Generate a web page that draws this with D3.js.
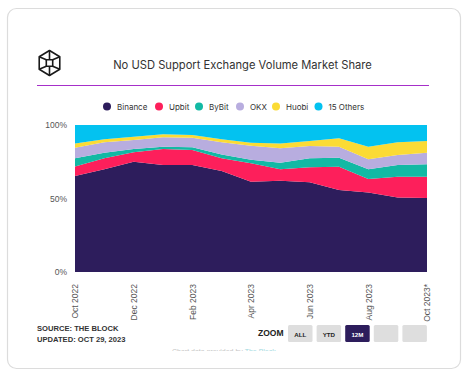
<!DOCTYPE html>
<html>
<head>
<meta charset="utf-8">
<script src="https://cdn.jsdelivr.net/npm/d3@7"></script>
<style>
  html, body { margin: 0; padding: 0; background: #ffffff; }
  svg { display: block; }
</style>
</head>
<body>
<svg id="chart" width="471" height="376"></svg>
<script>
const months = ["Oct 2022","Nov 2022","Dec 2022","Jan 2023","Feb 2023","Mar 2023","Apr 2023","May 2023","Jun 2023","Jul 2023","Aug 2023","Sep 2023","Oct 2023*"];
const seriesNames = ["Binance","Upbit","ByBit","OKX","Huobi","15 Others"];
const binance = [65.3, 69.9, 75.0, 72.8, 72.8, 68.7, 61.4, 62.1, 61.0, 55.8, 54.0, 50.6, 50.3];
const upbit   = [ 6.4,  7.4,  6.4, 10.9, 10.2,  8.6, 12.5,  7.8, 10.2, 15.8,  9.3, 14.2, 14.5];
const bybit   = [ 5.6,  3.9,  2.3,  1.5,  1.8,  2.7,  2.5,  4.5,  6.1,  6.2,  6.6,  8.0,  8.5];
const okx     = [ 7.3,  7.0,  6.1,  6.4,  6.6,  8.2,  9.5,  9.7,  8.4,  7.4,  6.8,  6.8,  7.9];
const huobi   = [ 2.9,  2.1,  2.2,  2.1,  1.8,  2.1,  2.1,  3.4,  3.4,  5.8,  8.5,  8.6,  7.9];
const others  = [12.5,  9.7,  8.0,  6.3,  6.8,  9.7, 12.0, 12.5, 10.9,  9.0, 14.8, 11.8, 10.9];
const yTicks = [0, 50, 100];
const xTickLabels = ["Oct 2022","Dec 2022","Feb 2023","Apr 2023","Jun 2023","Aug 2023","Oct 2023*"];
const colors = ["#2d1d5c","#fd1f5b","#12b9a4","#b8addf","#fbdb35","#03c2f0"];
const zoomButtons = ["ALL","YTD","12M","",""];

const svg = d3.select("#chart");

// card
svg.append("rect").attr("x", 7.5).attr("y", 8.5).attr("width", 453).attr("height", 360)
  .attr("rx", 9).attr("fill", "#fff").attr("stroke", "#dcdcdc").attr("stroke-width", 1.2);

// logo
const lg = svg.append("g").attr("fill", "none").attr("stroke", "#1a1a1a").attr("stroke-width", 1.6).attr("stroke-linejoin", "round");
const cx = 49.5, cy = 63, R = 12.5;
const hex = d3.range(6).map(i => { const a = -Math.PI/2 + i*Math.PI/3; return [cx + R*Math.cos(a)*0.95, cy + R*Math.sin(a)]; });
lg.append("polygon").attr("points", hex.map(p => p.join(",")).join(" "));
const s = 3.2;
lg.append("rect").attr("x", cx - s).attr("y", cy - s).attr("width", 2*s).attr("height", 2*s);
[[hex[0],[cx, cy - s]],[hex[1],[cx + s, cy - s]],[hex[2],[cx + s, cy + s]],[hex[3],[cx, cy + s]],[hex[4],[cx - s, cy + s]],[hex[5],[cx - s, cy - s]]]
  .forEach(([a,b]) => lg.append("line").attr("x1", a[0]).attr("y1", a[1]).attr("x2", b[0]).attr("y2", b[1]));

// title
svg.append("text").attr("x", 242.5).attr("y", 69).attr("text-anchor", "middle")
  .attr("font-family", "Inter, 'Noto Sans', sans-serif").attr("font-size", 11.2).attr("fill", "#333")
  .text("No USD Support Exchange Volume Market Share");
svg.append("line").attr("x1", 37).attr("x2", 429).attr("y1", 85.5).attr("y2", 85.5)
  .attr("stroke", "#a62fc9").attr("stroke-width", 1.2);

// legend
const legendItems = [
  {x: 107, name: seriesNames[0]},
  {x: 159, name: seriesNames[1]},
  {x: 199, name: seriesNames[2]},
  {x: 240, name: seriesNames[3]},
  {x: 276, name: seriesNames[4]},
  {x: 318.5, name: seriesNames[5]}
];
const leg = svg.append("g");
legendItems.forEach((d, i) => {
  leg.append("circle").attr("cx", d.x).attr("cy", 106.5).attr("r", 4).attr("fill", colors[i]);
  leg.append("text").attr("x", d.x + 10).attr("y", 109.5)
    .attr("font-family", "Inter, 'Noto Sans', sans-serif").attr("font-size", 8).attr("fill", "#333")
    .text(d.name);
});

// chart
const x = d3.scalePoint().domain(months).range([75, 427]);
const y = d3.scaleLinear().domain([0, 100]).range([272, 125]);

const table = months.map((m, i) => ({month: m, Binance: binance[i], Upbit: upbit[i], ByBit: bybit[i], OKX: okx[i], Huobi: huobi[i], "15 Others": others[i]}));
const stack = d3.stack().keys(seriesNames).offset(d3.stackOffsetExpand);
const layers = stack(table);
const area = d3.area().x(d => x(d.data.month)).y0(d => y(d[0]*100)).y1(d => y(d[1]*100)).curve(d3.curveLinear);

svg.append("g").selectAll("path").data(layers).join("path")
  .attr("d", area).attr("fill", (d, i) => colors[i]);

// y axis
const yAxis = d3.axisLeft(y).tickValues(yTicks).tickFormat(d => d + "%").tickSize(0).tickPadding(8);
const yg = svg.append("g").attr("transform", "translate(75,0)").call(yAxis);
yg.select(".domain").remove();
yg.selectAll("text").attr("font-family", "'Liberation Sans', Arial, sans-serif").attr("font-size", 8.5).attr("fill", "#555");

// x axis
const xAxis = d3.axisBottom(x).tickValues(xTickLabels.map(l => months.find(m => m === l))).tickSize(0).tickPadding(0);
const xg = svg.append("g").attr("transform", "translate(0,272)").call(xAxis);
xg.select(".domain").remove();
xg.selectAll("text")
  .attr("font-family", "'Liberation Sans', Arial, sans-serif").attr("font-size", 8.5).attr("fill", "#555")
  .attr("text-anchor", "end").attr("transform", "rotate(-90)")
  .attr("x", -12).attr("y", 0).attr("dy", "0.35em");

// source
const src = svg.append("g").attr("font-family", "'Liberation Sans', Arial, sans-serif").attr("font-weight", "bold").attr("font-size", 7.6).attr("fill", "#333");
src.append("text").attr("x", 37).attr("y", 331).text("SOURCE: THE BLOCK");
src.append("text").attr("x", 37).attr("y", 342).text("UPDATED: OCT 29, 2023");

// zoom buttons
svg.append("text").attr("x", 283.5).attr("y", 336).attr("text-anchor", "end")
  .attr("font-family", "'Liberation Sans', Arial, sans-serif").attr("font-weight", "bold").attr("font-size", 8.5).attr("fill", "#222")
  .text("ZOOM");
zoomButtons.forEach((b, i) => {
  const bx = 288 + i*28.6;
  const active = b === "12M";
  svg.append("rect").attr("x", bx).attr("y", 325).attr("width", 24.5).attr("height", 17).attr("rx", 1.5)
    .attr("fill", active ? "#2d1d5c" : "#dedede");
  if (b) svg.append("text").attr("x", bx + 12.25).attr("y", 336.5).attr("text-anchor", "middle")
    .attr("font-family", "'Liberation Sans', Arial, sans-serif").attr("font-weight", "bold").attr("font-size", 6.2)
    .attr("fill", active ? "#ffffff" : "#222").text(b);
});

// faint clipped footer text
svg.append("clipPath").attr("id", "footclip").append("rect").attr("x", 0).attr("y", 347).attr("width", 471).attr("height", 4);
const ft = svg.append("text").attr("clip-path", "url(#footclip)").attr("x", 172).attr("y", 354)
  .attr("font-family", "'Liberation Sans', Arial, sans-serif").attr("font-size", 7).attr("fill", "#c4c4c4");
ft.append("tspan").text("Chart data provided by ");
ft.append("tspan").attr("fill", "#9fd8e0").text("The Block");
</script>
</body>
</html>
